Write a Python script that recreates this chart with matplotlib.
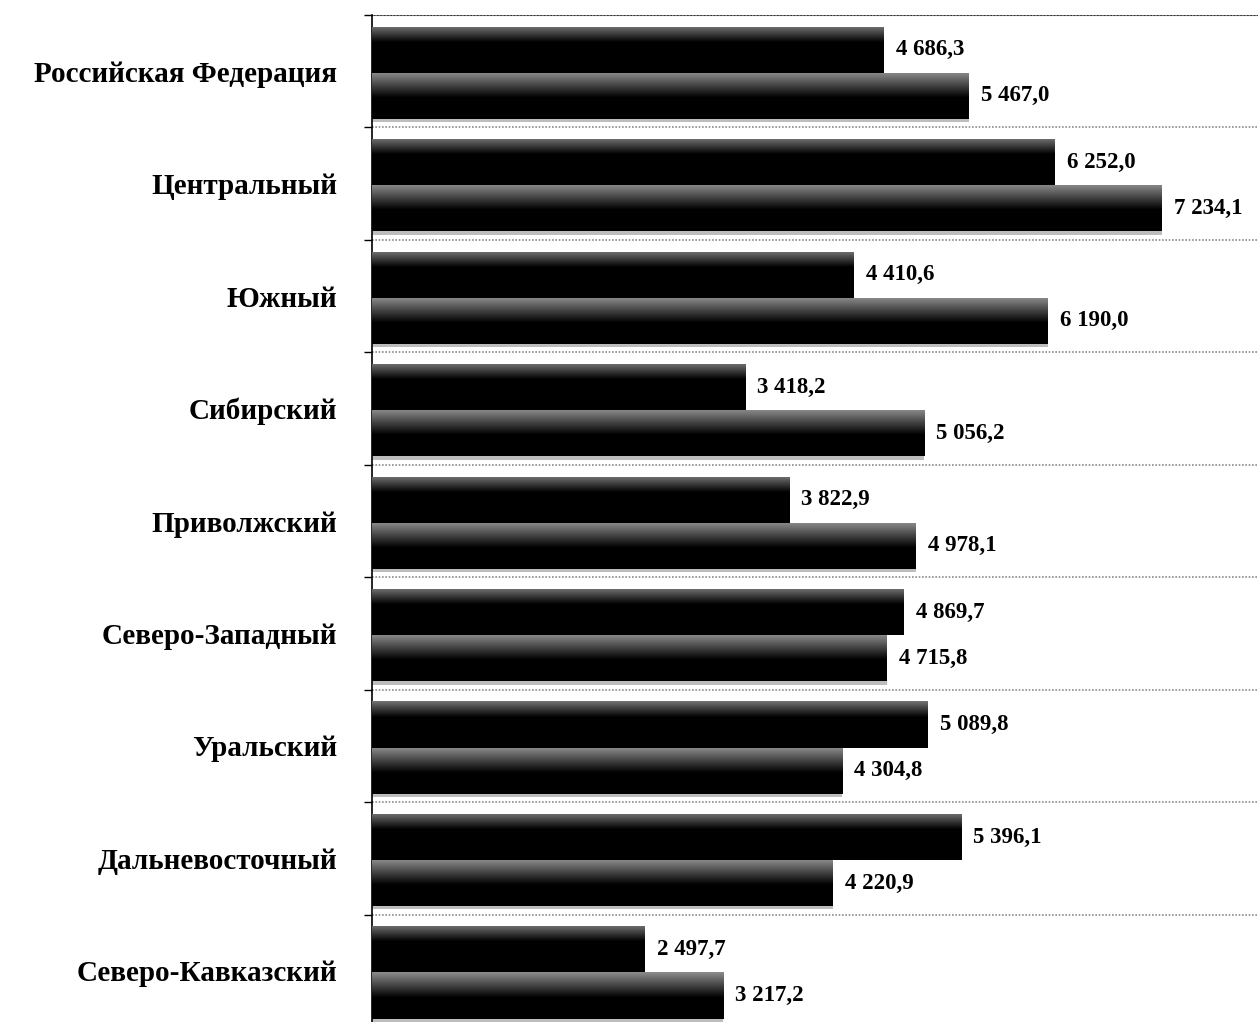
import matplotlib
matplotlib.use('Agg')
import matplotlib.pyplot as plt
import numpy as np

regions = ['Российская Федерация', 'Центральный', 'Южный', 'Сибирский',
           'Приволжский', 'Северо-Западный', 'Уральский', 'Дальневосточный',
           'Северо-Кавказский']
values_top = [4686.3, 6252.0, 4410.6, 3418.2, 3822.9, 4869.7, 5089.8, 5396.1, 2497.7]
values_bottom = [5467.0, 7234.1, 6190.0, 5056.2, 4978.1, 4715.8, 4304.8, 4220.9, 3217.2]


def fmt(v):
    whole, frac = f'{v:.1f}'.split('.')
    whole = f'{int(whole):,}'.replace(',', ' ')
    return f'{whole},{frac}'


def shade(ax, bars, light, share):
    # vertical gradient: grey at the top edge fading to black
    n = 100
    col = np.zeros((n, 1))
    k = int(n * share)
    col[:k, 0] = np.linspace(light, 0.0, k)
    for b in bars:
        x0, y0 = b.get_x(), b.get_y()
        w, h = b.get_width(), b.get_height()
        im = ax.imshow(col, cmap='gray', vmin=0, vmax=1, aspect='auto',
                       extent=(x0, x0 + w, y0 + h, y0), zorder=3,
                       interpolation='bilinear')
        im.set_clip_path(b)


plt.rcParams['font.family'] = ['Liberation Serif', 'DejaVu Serif']
plt.rcParams['font.weight'] = 'bold'

fig = plt.figure(figsize=(12.58, 10.22), dpi=100)
ax = fig.add_axes([372 / 1258, -5 / 1022, 886 / 1258, 1012 / 1022])

y = np.arange(len(regions))
h = 0.41
bars_top = ax.barh(y - 0.19, values_top, height=h, color='#0a0a0a', zorder=2)
bars_bot = ax.barh(y + 0.22, values_bottom, height=h, color='#0a0a0a', zorder=2)
shade(ax, bars_top, 0.45, 0.35)
shade(ax, bars_bot, 0.55, 0.55)

# light shadow strip under the lower bars
for b in bars_bot:
    ax.barh(b.get_y() + b.get_height() + 0.015, b.get_width(), height=0.03,
            color='#bdbdbd', zorder=1.5)

for b, v in zip(bars_top, values_top):
    ax.text(b.get_width() + 110, b.get_y() + b.get_height() / 2, fmt(v),
            va='center', ha='left', fontsize=16.5, fontweight='bold', zorder=4)
for b, v in zip(bars_bot, values_bottom):
    ax.text(b.get_width() + 110, b.get_y() + b.get_height() / 2, fmt(v),
            va='center', ha='left', fontsize=16.5, fontweight='bold', zorder=4)

ax.set_xlim(0, 8114)
ax.set_ylim(len(regions) - 0.5, -0.5)
ax.set_yticks(y)
ax.set_yticklabels(regions, fontsize=21, fontweight='bold')
ax.tick_params(axis='y', which='major', length=0, pad=25)
ax.set_yticks(np.arange(len(regions) + 1) - 0.5, minor=True)
ax.tick_params(axis='y', which='minor', length=6, width=1, color='black')
ax.grid(axis='y', which='minor', color='#8c8c8c', linestyle=(0, (1, 1)),
        linewidth=1.2, zorder=1)
ax.axhline(-0.5, color='#333333', lw=1.5, zorder=1)
ax.set_xticks([])
for s in ['top', 'right', 'bottom']:
    ax.spines[s].set_visible(False)
ax.spines['left'].set_linewidth(1.2)

fig.savefig('out.png', dpi=100)
